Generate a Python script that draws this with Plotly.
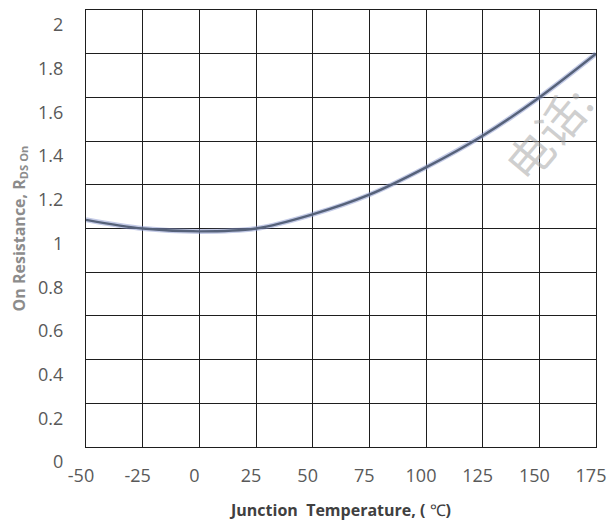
import plotly.graph_objects as go

# Data
temperature_c = [-50, -25, 0, 25, 50, 75, 100, 125, 150, 175]
rds_on_norm = [1.04, 1.00, 0.987, 1.00, 1.065, 1.155, 1.28, 1.425, 1.60, 1.80]

x_ticks = [-50, -25, 0, 25, 50, 75, 100, 125, 150, 175]
y_ticks = [0, 0.2, 0.4, 0.6, 0.8, 1.0, 1.2, 1.4, 1.6, 1.8, 2.0]
y_tick_labels = ["0", "0.2", "0.4", "0.6", "0.8", "1", "1.2", "1.4", "1.6", "1.8", "2"]

fig = go.Figure()
# soft halo under the curve
fig.add_trace(go.Scatter(
    x=temperature_c, y=rds_on_norm, mode="lines",
    line=dict(color="rgba(135,150,205,0.5)", width=5, shape="spline", smoothing=0.9),
    hoverinfo="skip", showlegend=False))
fig.add_trace(go.Scatter(
    x=temperature_c, y=rds_on_norm, mode="lines",
    line=dict(color="#56627a", width=2.4, shape="spline", smoothing=0.9),
    showlegend=False))

tick_font = dict(family="Open Sans", size=18, color="#595959")
grid_col = "#1e1e1e"

fig.update_xaxes(
    range=[-50, 175], tickvals=x_ticks, ticktext=[str(v) for v in x_ticks],
    showgrid=True, gridcolor=grid_col, gridwidth=1.3,
    showline=True, linecolor=grid_col, linewidth=1.3, mirror=True,
    zeroline=False, ticks="", tickfont=tick_font, automargin=False,
    ticklabelstandoff=12, ticklabelshift=-5,
    title=dict(text="<b>Junction  Temperature, ( </b>℃<b>)</b>",
               font=dict(family="Open Sans", size=16, color="#404040"), standoff=19),
)
fig.update_yaxes(
    range=[0, 2.0005], tickvals=y_ticks, ticktext=y_tick_labels,
    showgrid=True, gridcolor=grid_col, gridwidth=1.3,
    showline=True, linecolor=grid_col, linewidth=1.3, mirror=True,
    zeroline=False, ticks="", tickfont=tick_font, automargin=False,
    ticklabelstandoff=18, ticklabelshift=15,
    title=dict(text="<b>On Resistance, R<sub>DS On</sub></b>",
               font=dict(family="Open Sans", size=16, color="#8c8c8c"), standoff=10),
)

# faint watermark text
fig.add_annotation(
    text="电话:", xref="paper", yref="paper", x=0.905, y=0.72,
    xanchor="center", yanchor="middle",
    showarrow=False, textangle=-50,
    font=dict(family="Noto Sans CJK SC", size=46, color="rgba(160,160,160,0.5)"))

# page body has an 8px default margin, so the figure is sized to compensate
fig.update_layout(
    width=608, height=519,
    margin=dict(l=78, r=20, t=2, b=80),
    paper_bgcolor="white", plot_bgcolor="white",
    showlegend=False,
)

fig.write_html("out.html")
